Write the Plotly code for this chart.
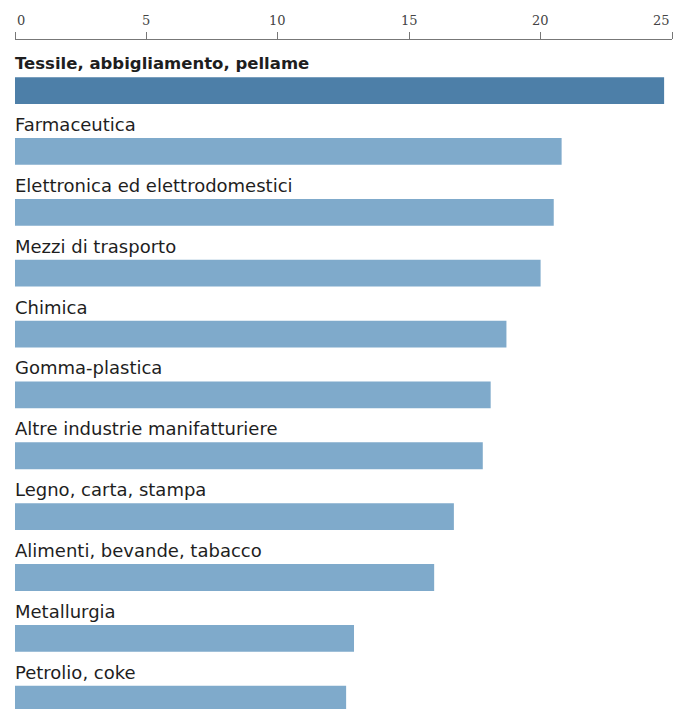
import plotly.graph_objects as go

categories = [
    "Tessile, abbigliamento, pellame",
    "Farmaceutica",
    "Elettronica ed elettrodomestici",
    "Mezzi di trasporto",
    "Chimica",
    "Gomma-plastica",
    "Altre industrie manifatturiere",
    "Legno, carta, stampa",
    "Alimenti, bevande, tabacco",
    "Metallurgia",
    "Petrolio, coke",
]
values = [24.7, 20.8, 20.5, 20.0, 18.7, 18.1, 17.8, 16.7, 15.95, 12.9, 12.6]
tick_vals = [0, 5, 10, 15, 20, 25]
tick_text = ["0", "5", "10", "15", "20", "25"]

highlight = "#4d7fa8"
normal = "#7faacb"
colors = [highlight if i == 0 else normal for i in range(len(categories))]

fig = go.Figure()
fig.add_trace(go.Bar(
    x=values,
    y=categories,
    orientation="h",
    marker=dict(color=colors, line=dict(width=0)),
    width=0.44,
    hoverinfo="x+y",
))

annotations = []
for i, (c, v) in enumerate(zip(categories, values)):
    txt = f"<b>{c}</b>" if i == 0 else c
    annotations.append(dict(
        x=0, y=c, xref="x", yref="y",
        text=txt, showarrow=False,
        xanchor="left", yanchor="middle", yshift=27, xshift=-2,
        font=dict(family="DejaVu Sans", size=16.5 if i == 0 else 18, color="#1e1e1e"),
    ))

for tv, tt in zip(tick_vals, tick_text):
    anchor = "left" if tv == tick_vals[0] else ("right" if tv == tick_vals[-1] else "center")
    annotations.append(dict(
        x=tv, y=1, xref="x", yref="paper",
        text=tt, showarrow=False,
        xanchor=anchor, yanchor="middle", yshift=20,
        font=dict(family="DejaVu Serif", size=13, color="#444444"),
    ))

fig.update_layout(
    width=676, height=709,
    margin=dict(l=15, r=4, t=40, b=0),
    paper_bgcolor="white", plot_bgcolor="white",
    showlegend=False,
    annotations=annotations,
    xaxis=dict(
        range=[0, 25], side="top",
        tickvals=tick_vals, showticklabels=False,
        ticks="outside", ticklen=7, tickcolor="#777777", tickwidth=1,
        showline=True, linecolor="#777777", linewidth=1,
        showgrid=False, zeroline=False, fixedrange=True,
    ),
    yaxis=dict(
        categoryorder="array", categoryarray=categories,
        range=[10.16, -0.83],
        showticklabels=False, showgrid=False, zeroline=False,
        showline=False, ticks="", fixedrange=True,
    ),
)

fig.write_html("out.html")
